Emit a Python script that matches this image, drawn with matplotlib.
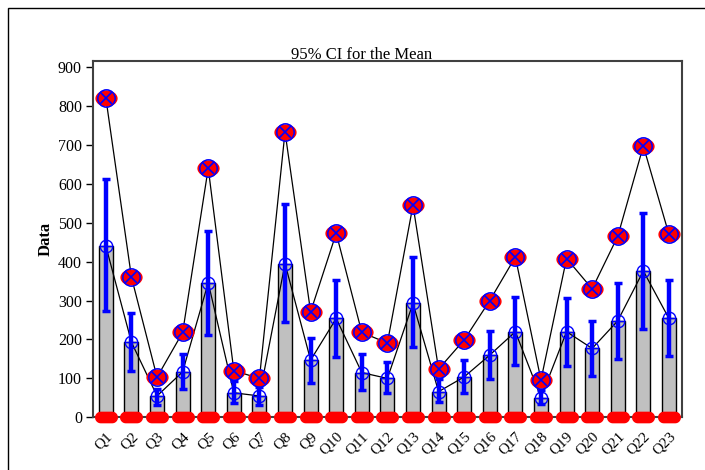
import matplotlib
matplotlib.use("Agg")
import matplotlib.pyplot as plt
import matplotlib.patches as mpatches
from matplotlib.path import Path
from matplotlib.transforms import Affine2D
import numpy as np

plt.rcParams["font.family"] = ["Liberation Serif", "DejaVu Serif"]

LABELS = [f"Q{i}" for i in range(1, 24)]
MEANS = [440, 193, 55, 117, 346, 63, 55, 395, 147, 254, 115, 100, 293,
         66, 104, 160, 220, 51, 220, 177, 248, 376, 254]
CI_HIGH = [611, 269, 74, 164, 479, 94, 77, 547, 203, 354, 164, 143, 411,
           98, 147, 222, 310, 70, 307, 247, 346, 524, 352]
CI_LOW = [274, 119, 32, 72, 211, 38, 32, 246, 87, 154, 70, 62, 180,
          40, 62, 98, 134, 34, 132, 106, 151, 228, 157]
MAXS = [820, 360, 103, 218, 640, 120, 100, 733, 271, 473, 218, 191, 545,
        124, 199, 300, 412, 96, 408, 330, 465, 697, 470]
MINS = [0] * 23

RED = "#ff0000"
BLUE = "#0000ff"


def ellipse_marker(ratio):
    return Path.unit_circle().transformed(Affine2D().scale(ratio, 1.0))


def stadium_marker(ratio):
    # rounded bar shape: two half circles joined by straight sides
    t1 = np.linspace(-np.pi / 2, np.pi / 2, 20)
    t2 = np.linspace(np.pi / 2, 3 * np.pi / 2, 20)
    off = ratio - 1
    right = np.column_stack([off + np.cos(t1), np.sin(t1)])
    left = np.column_stack([-off + np.cos(t2), np.sin(t2)])
    verts = np.vstack([right, left, right[:1]])
    return Path(verts, closed=True)


fig = plt.figure(figsize=(7.05, 4.7), dpi=100)
ax = fig.add_axes([0.132, 0.112, 0.835, 0.758])

x = np.arange(len(LABELS))
means = np.array(MEANS)

ax.bar(x, means, width=0.55, color="#c0c0c0", edgecolor="black",
       linewidth=1.0, zorder=2)

ax.plot(x, MAXS, color="black", linewidth=0.9, zorder=3)
ax.plot(x, means, color="black", linewidth=0.9, zorder=3)

yerr = [means - np.array(CI_LOW), np.array(CI_HIGH) - means]
ax.errorbar(x, means, yerr=yerr, fmt="none", ecolor=BLUE, elinewidth=3.2,
            capsize=3, capthick=2.5, zorder=4)

# mean markers
ax.plot(x, means, linestyle="none", marker="o", markersize=9,
        markerfacecolor="none", markeredgecolor=BLUE, markeredgewidth=1.0,
        zorder=6)
ax.plot(x, means, linestyle="none", marker="+", markersize=9,
        markeredgecolor=BLUE, markeredgewidth=1.0, zorder=6)

# max markers
ax.plot(x, MAXS, linestyle="none", marker=ellipse_marker(1.4), markersize=15,
        markerfacecolor=RED, markeredgecolor=RED, zorder=5, clip_on=False)
ax.plot(x, MAXS, linestyle="none", marker="o", markersize=12.5,
        markerfacecolor="none", markeredgecolor=BLUE, markeredgewidth=1.1,
        zorder=6, clip_on=False)
ax.plot(x, MAXS, linestyle="none", marker="x", markersize=8,
        markeredgecolor=BLUE, markeredgewidth=1.2, zorder=7, clip_on=False)

# min markers
ax.plot(x, MINS, linestyle="none", marker=stadium_marker(2.1), markersize=15.5,
        markerfacecolor=RED, markeredgecolor=RED, zorder=5, clip_on=False)

ax.set_xlim(-0.5, 22.5)
ax.set_ylim(0, 915)
ax.set_yticks(range(0, 901, 100))
ax.set_xticks(x)
ax.set_xticklabels(LABELS, rotation=45, ha="right", rotation_mode="anchor")
ax.tick_params(axis="x", length=0, labelsize=11, pad=9)
ax.tick_params(axis="y", length=5, labelsize=11.5, width=1.0, pad=3)
ax.set_ylabel("Data", fontsize=12, fontweight="bold", labelpad=3)

for sp in ax.spines.values():
    sp.set_color("#404040")
    sp.set_linewidth(1.5)

fig.text(0.513, 0.866, "95% CI for the Mean", ha="center", va="bottom",
         fontsize=12)

border = mpatches.Rectangle((0.012, -0.1), 1.2, 0.1 + 0.983, fill=False,
                            edgecolor="black", linewidth=1.0,
                            transform=fig.transFigure, figure=fig)
fig.patches.append(border)

fig.savefig("out.png", dpi=100)
